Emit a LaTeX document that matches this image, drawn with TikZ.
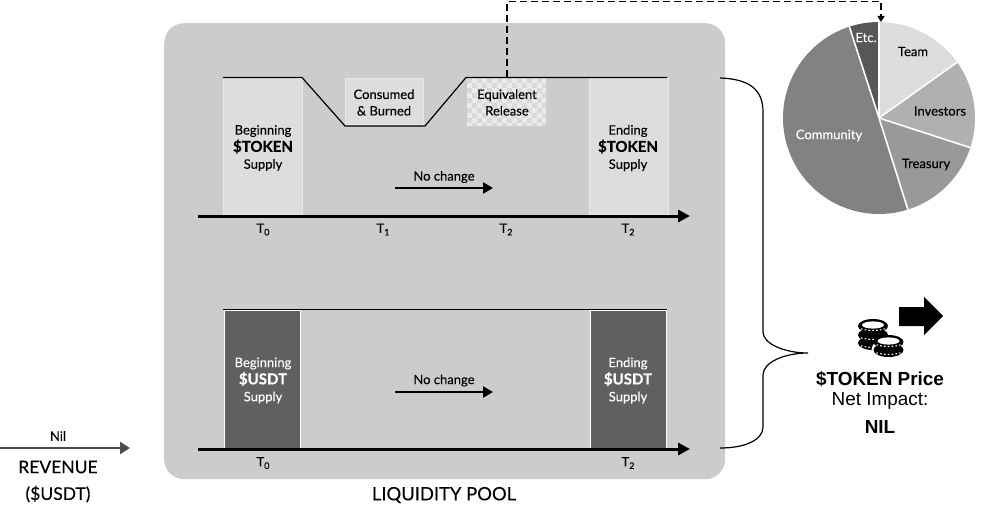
\documentclass[tikz,border=0pt]{standalone}
\usepackage{fontspec}
\setmainfont{Lato}[FakeBold=0.12]
\newfontfamily\arialf{Liberation Sans}
\usetikzlibrary{arrows.meta,calc}
\definecolor{panelc}{gray}{0.80}
\definecolor{lightc}{gray}{0.865}
\definecolor{edgec}{gray}{0.91}
\definecolor{darkc}{gray}{0.375}
\tikzset{
  lbl/.style={font=\fontsize{13}{16.5}\selectfont,align=center,inner sep=0pt},
  tick/.style={font=\fontsize{13}{15}\selectfont,inner sep=0pt},
  lightbox/.style={draw=edgec,line width=1pt,fill=lightc,inner sep=0pt,minimum width=#1,anchor=north west},
  darkbox/.style={draw=white,line width=1.2pt,fill=darkc,inner sep=0pt,minimum width=76pt,minimum height=138pt,anchor=north west},
  axisline/.style={line width=3pt,-{Triangle[length=12pt,width=12pt]}},
  changearrow/.style={line width=2.6pt,-{Triangle[length=10pt,width=11pt]}},
  supply/.style={line width=1.2pt,line join=miter},
}
\newcommand{\Tsub}[1]{T{\raisebox{-2.5pt}{\fontsize{9}{9}\selectfont #1}}}
\newcommand{\heavy}[1]{{\fontsize{15}{16.5}\selectfont\bfseries\addfontfeature{FakeBold=0.5}#1}}
\begin{document}
\begin{tikzpicture}[x=1pt,y=-1pt]
\useasboundingbox (0,0) rectangle (1000,519);
% panel
\node[fill=panelc,rounded corners=20pt,inner sep=0pt,minimum width=561pt,minimum height=456pt,anchor=north west] (panel) at (164,23) {};
\node[font=\fontsize{18.4}{20}\selectfont,inner sep=0pt] (lp) at (444,495) {LIQUIDITY POOL};
% token boxes
\node[lightbox=79pt,minimum height=136pt] (begT) at (223,78) {};
\node[lbl] (begTt) at (263,148) {Beginning\\[0.8pt]\heavy{\$TOKEN}\\[0.4pt]Supply};
\node[lightbox=79pt,minimum height=136pt] (endT) at (588.5,78) {};
\node[lbl] (endTt) at (628,148) {Ending\\[0.8pt]\heavy{\$TOKEN}\\[0.4pt]Supply};
\node[lightbox=78pt,minimum height=46pt] (cons) at (345,78) {};
\node[lbl] (const) at (384,102.5) {Consumed\\\& Burned};
% checker box
\begin{scope}
\clip (467,78) rectangle (546,125.5);
\fill[white!92!black] (467,78) rectangle (546,125.5);
\foreach \i in {0,...,16}{\foreach \j in {0,...,10}{
  \pgfmathparse{int(mod(\i+\j,2))}
  \ifnum\pgfmathresult=0\relax
  \fill[black!15] ({467+\i*5},{78+\j*5}) rectangle ++(5,5);
  \fi}}
\end{scope}
\node[inner sep=0pt,minimum width=79pt,minimum height=47.5pt,anchor=north west] (equiv) at (467,78) {};
\node[lbl] (equivt) at (507,102.5) {Equivalent\\Release};
% supply line
\coordinate (s1) at (223,77.5);
\coordinate (s2) at (302,77.5);
\coordinate (s3) at (345,126);
\coordinate (s4) at (425,126);
\coordinate (s5) at (466,77.5);
\coordinate (s6) at (667,77.5);
\draw[supply] (s1)--(s2)--(s3)--(s4)--(s5)--(s6);
% axes
\coordinate (a1) at (198,216);
\coordinate (a2) at (690,216);
\draw[axisline] (a1)--(a2);
\node[tick] (t0) at (263,229.5) {\Tsub{0}};
\node[tick] (t1) at (383,229.5) {\Tsub{1}};
\node[tick] (t2) at (506,229.5) {\Tsub{2}};
\node[tick] (t3) at (628,229.5) {\Tsub{2}};
\coordinate (c1) at (395,188);
\coordinate (c2) at (493,188);
\draw[changearrow] (c1)--(c2);
\node[lbl] (nc1) at (444,177) {No change};
% usdt
\node[darkbox] (begU) at (224,310) {};
\node[lbl,text=white] (begUt) at (263,380.5) {Beginning\\[0.8pt]\heavy{\$USDT}\\[0.4pt]Supply};
\node[darkbox] (endU) at (590,310) {};
\node[lbl,text=white] (endUt) at (628,380.5) {Ending\\[0.8pt]\heavy{\$USDT}\\[0.4pt]Supply};
\coordinate (u1) at (223,309.5);
\coordinate (u2) at (667,309.5);
\draw[line width=1.2pt] (u1)--(u2);
\coordinate (b1) at (198,449);
\coordinate (b2) at (690,449);
\draw[axisline] (b1)--(b2);
\node[tick] (t4) at (263,463) {\Tsub{0}};
\node[tick] (t5) at (628,463) {\Tsub{2}};
\coordinate (d1) at (395,392);
\coordinate (d2) at (493,392);
\draw[changearrow] (d1)--(d2);
\node[lbl] (nc2) at (444,380.5) {No change};
% revenue
\coordinate (r1) at (0,448);
\coordinate (r2) at (130,448);
\draw[line width=2.6pt,black!70,-{Triangle[length=10pt,width=12pt]}] (r1)--(r2);
\node[lbl] (nil) at (58,436) {Nil};
\node[font=\fontsize{17.5}{20}\selectfont,inner sep=0pt] (rev) at (58,467) {REVENUE};
\node[font=\fontsize{17.5}{20}\selectfont,inner sep=0pt] (usd) at (58,494) {(\$USDT)};
% pie
\coordinate (pc) at (879,118);
\def\R{96}
\foreach \a/\b/\c in {90/35.5/lightc,35.5/-18/black!31,-18/-72.5/black!40,-72.5/-252/black!49,-252/-270/black!66}{
  \fill[\c] (pc) -- ($(pc)+({\R*cos(\a)},{-\R*sin(\a)})$) arc[start angle=-\a,end angle=-\b,radius=\R] -- cycle;
}
\foreach \a in {90,35.5,-18,-72.5,-252}{
  \draw[white,line width=1.6pt] (pc) -- ($(pc)+({\R*cos(\a)},{-\R*sin(\a)})$);
}
\node[lbl] (pteam) at (913,51.5) {Team};
\node[lbl] (pinv) at (940,111) {Investors};
\node[lbl] (ptre) at (926,164.5) {Treasury};
\node[lbl,text=white] (pcom) at (829,135.5) {Community};
\node[lbl,text=white] (petc) at (866,37.5) {Etc.};
% dashed
\coordinate (e0) at (507,77);
\coordinate (e1) at (507,1.5);
\coordinate (e2) at (881,1.5);
\coordinate (e3) at (881,22);
\draw[line width=1.4pt,dash pattern=on 7pt off 4pt,-{Triangle[length=6pt,width=7pt]}] (e0)--(e1)--(e2)--(e3);
% brace
\coordinate (br1) at (720,78);
\coordinate (br2) at (808,353);
\coordinate (br3) at (720,448);
\draw[line width=1.2pt] (br1) .. controls (750,79) and (763,90) .. (763,112) -- (763,332)
  .. controls (763,344) and (785,353) .. (br2)
  .. controls (785,353) and (763,362) .. (763,375) -- (763,427)
  .. controls (763,440) and (745,448) .. (br3);
% coins
\foreach \cx/\cy in {873/343,873/335,873/326}{
  \fill[black] (\cx,\cy) ellipse[x radius=15pt,y radius=7pt];
  \draw[white,line width=1.1pt,dash pattern=on 1.6pt off 2.2pt] (\cx-12,\cy+2.8) .. controls (\cx-5,\cy+5) and (\cx+5,\cy+5) .. (\cx+12,\cy+2.8);
}
\fill[white] (873,325) ellipse[x radius=11pt,y radius=3.6pt];
\fill[white] (888.5,349) ellipse[x radius=17pt,y radius=10pt];
\foreach \cx/\cy in {888.5/350,888.5/342}{
  \fill[black] (\cx,\cy) ellipse[x radius=15pt,y radius=7pt];
  \draw[white,line width=1.1pt,dash pattern=on 1.6pt off 2.2pt] (\cx-12,\cy+2.8) .. controls (\cx-5,\cy+5) and (\cx+5,\cy+5) .. (\cx+12,\cy+2.8);
}
\fill[white] (888.5,341) ellipse[x radius=11pt,y radius=3.6pt];
% black arrow
\fill[black] (899,307)--(924,307)--(924,297)--(943,316)--(924,335)--(924,326)--(899,326)--cycle;
% impact text
\node[font=\arialf\bfseries\fontsize{18.9}{20}\selectfont,inner sep=0pt] (imp1) at (880,379) {\$TOKEN Price};
\node[font=\arialf\fontsize{18.9}{20}\selectfont,inner sep=0pt] (imp2) at (880,401) {Net Impact:};
\node[font=\arialf\bfseries\fontsize{18.9}{20}\selectfont,inner sep=0pt] (imp3) at (880,427) {NIL};
\end{tikzpicture}
\end{document}
